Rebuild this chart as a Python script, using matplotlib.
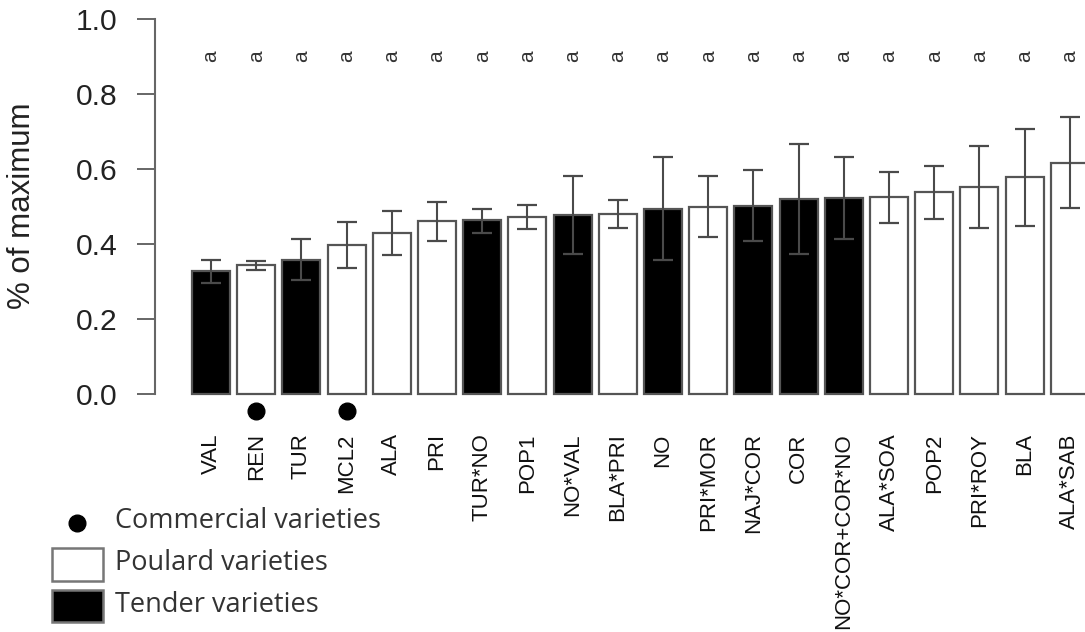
import matplotlib.pyplot as plt
from matplotlib.patches import Rectangle
from matplotlib.lines import Line2D
import numpy as np

# datos
names = ['VAL', 'REN', 'TUR', 'MCL2', 'ALA', 'PRI', 'TUR*NO', 'POP1', 'NO*VAL',
         'BLA*PRI', 'NO', 'PRI*MOR', 'NAJ*COR', 'COR', 'NO*COR+COR*NO',
         'ALA*SOA', 'POP2', 'PRI*ROY', 'BLA', 'ALA*SAB']
means = [0.329, 0.344, 0.357, 0.397, 0.428, 0.461, 0.464, 0.471, 0.476, 0.479,
         0.493, 0.498, 0.502, 0.520, 0.522, 0.524, 0.538, 0.551, 0.578, 0.617]
err_lo = [0.297, 0.332, 0.304, 0.335, 0.371, 0.409, 0.428, 0.441, 0.372, 0.442,
          0.357, 0.418, 0.409, 0.373, 0.413, 0.457, 0.467, 0.442, 0.448, 0.497]
err_hi = [0.357, 0.355, 0.412, 0.459, 0.488, 0.513, 0.492, 0.504, 0.580, 0.516,
          0.633, 0.582, 0.597, 0.667, 0.633, 0.593, 0.609, 0.661, 0.707, 0.738]
tender = ['VAL', 'TUR', 'TUR*NO', 'NO*VAL', 'NO', 'NAJ*COR', 'COR', 'NO*COR+COR*NO']
commercial = ['REN', 'MCL2']
letters = ['a'] * len(names)
yticks = [0.0, 0.2, 0.4, 0.6, 0.8, 1.0]

W, H = 1085, 632

def fx(px):
    return px / W

def fy(py):
    return 1 - py / H

fig = plt.figure(figsize=(W / 100, H / 100), dpi=100)
ax = fig.add_axes([fx(155), fy(400), fx(1085 - 155), (400 - 15) / H])

x = np.arange(len(names))
means = np.array(means)
lo = np.array(err_lo)
hi = np.array(err_hi)
colors = ['black' if n in tender else 'white' for n in names]

ax.bar(x, means, width=0.84, color=colors, edgecolor='#555555', linewidth=1.6)
ax.errorbar(x, means, yerr=[means - lo, hi - means], fmt='none',
            ecolor='#4a4a4a', elinewidth=1.5, capsize=7.2, capthick=1.6)

for i, n in enumerate(names):
    ax.text(i, 0.9, letters[i], rotation=90, ha='center', va='center',
            fontsize=15, color='#333333', family='Liberation Sans')

cx = [i for i, n in enumerate(names) if n in commercial]
ax.plot(cx, [-0.045] * len(cx), 'o', color='black', markersize=12, clip_on=False)

ax.set_xlim((155 - 211) / 45.2, (1085 - 211) / 45.2)
ax.set_ylim(-(400 - 394) / 375, 1 + (19 - 15) / 375)

for s in ['top', 'right', 'bottom']:
    ax.spines[s].set_visible(False)
ax.spines['left'].set_bounds(0, 1)
ax.spines['left'].set_color('#666666')
ax.spines['left'].set_linewidth(1.5)

ax.set_yticks(yticks)
ax.set_yticklabels(['%.1f' % v for v in yticks], family='Liberation Sans')
ax.tick_params(axis='y', length=13, width=1.4, color='#666666', pad=14,
               labelsize=21.6, labelcolor='#222222')
ax.set_xticks(x)
ax.set_xticklabels(names, rotation=90, family='Liberation Sans', va='top')
ax.tick_params(axis='x', length=0, pad=24, labelsize=16, labelcolor='#111111')

fig.text(fx(22), fy(206), '% of maximum', rotation=90, ha='center', va='center',
         fontsize=22.5, color='#222222', family='Liberation Sans')

# leyenda
fig.add_artist(Line2D([fx(77)], [fy(523)], marker='o', color='black',
                      markersize=12, transform=fig.transFigure))
fig.add_artist(Rectangle((fx(52), fy(581)), fx(51), 33 / H, facecolor='white',
                         edgecolor='#777777', linewidth=1.8,
                         transform=fig.transFigure))
fig.add_artist(Rectangle((fx(52), fy(622)), fx(51), 32 / H, facecolor='black',
                         edgecolor='#777777', linewidth=1.8,
                         transform=fig.transFigure))
for label, yy in [('Commercial varieties', 521), ('Poulard varieties', 563),
                  ('Tender varieties', 605)]:
    fig.text(fx(115), fy(yy), label, ha='left', va='center', fontsize=19.5,
             color='#333333', family='Open Sans')

fig.savefig('out.png', dpi=100)
